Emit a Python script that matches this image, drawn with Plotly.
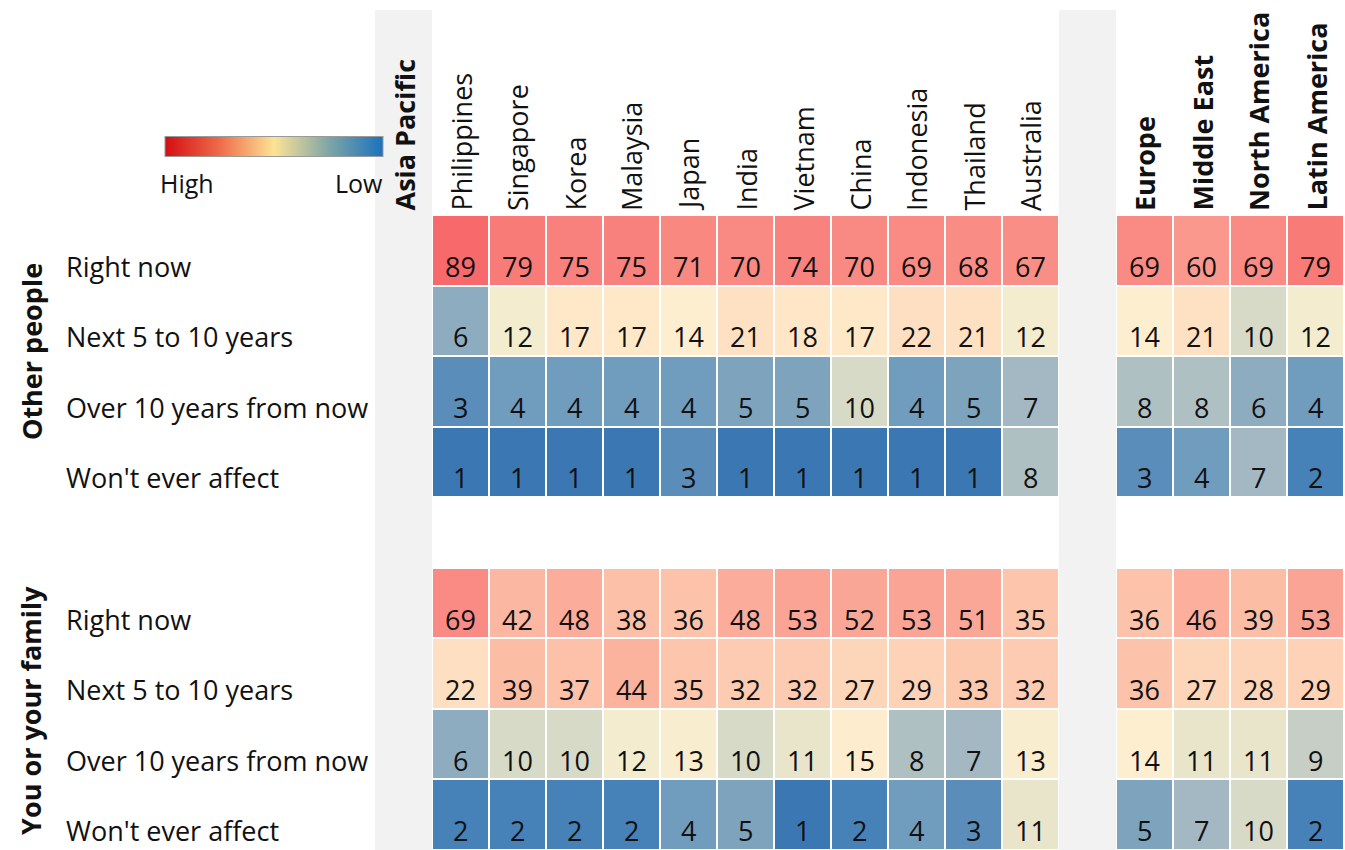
import math
import plotly.graph_objects as go

# ---------------- data ----------------
asia_countries = ["Philippines", "Singapore", "Korea", "Malaysia", "Japan", "India",
                  "Vietnam", "China", "Indonesia", "Thailand", "Australia"]
other_regions = ["Europe", "Middle East", "North America", "Latin America"]
timeframes = ["Right now", "Next 5 to 10 years", "Over 10 years from now", "Won't ever affect"]
groups = ["Other people", "You or your family"]

# Other people
other_right_now_asia = [89, 79, 75, 75, 71, 70, 74, 70, 69, 68, 67]
other_right_now_reg = [69, 60, 69, 79]
other_next_asia = [6, 12, 17, 17, 14, 21, 18, 17, 22, 21, 12]
other_next_reg = [14, 21, 10, 12]
other_over10_asia = [3, 4, 4, 4, 4, 5, 5, 10, 4, 5, 7]
other_over10_reg = [8, 8, 6, 4]
other_never_asia = [1, 1, 1, 1, 3, 1, 1, 1, 1, 1, 8]
other_never_reg = [3, 4, 7, 2]

# You or your family
you_right_now_asia = [69, 42, 48, 38, 36, 48, 53, 52, 53, 51, 35]
you_right_now_reg = [36, 46, 39, 53]
you_next_asia = [22, 39, 37, 44, 35, 32, 32, 27, 29, 33, 32]
you_next_reg = [36, 27, 28, 29]
you_over10_asia = [6, 10, 10, 12, 13, 10, 11, 15, 8, 7, 13]
you_over10_reg = [14, 11, 11, 9]
you_never_asia = [2, 2, 2, 2, 4, 5, 1, 2, 4, 3, 11]
you_never_reg = [5, 7, 10, 2]

# colour anchors (value -> cell colour)
color_values = [1, 2, 3, 4, 5, 6, 7, 8, 9, 10, 11, 12, 14, 17, 22, 29, 36, 44, 53, 69, 79, 89]
color_hex = ["#3b78b3", "#4682b8", "#5a8dba", "#709cbd", "#7ea3bd", "#8eacbf", "#a3b8c2",
             "#afc0c3", "#c6cec6", "#d8dac8", "#e8e5cb", "#f4ecce", "#fdeed0", "#fee8c8",
             "#fedfc1", "#fdd2b6", "#fcc3aa", "#fbb39e", "#faa496", "#f98b84", "#f87b78",
             "#f7696b"]
legend_colors = ["#d40d12", "#ee6b4a", "#fde394", "#7fa6a6", "#1a72bd"]

# ---------------- build grid ----------------
columns = ["Asia Pacific"] + asia_countries + [""] + other_regions
row_series = [
    (other_right_now_asia, other_right_now_reg),
    (other_next_asia, other_next_reg),
    (other_over10_asia, other_over10_reg),
    (other_never_asia, other_never_reg),
    None,
    (you_right_now_asia, you_right_now_reg),
    (you_next_asia, you_next_reg),
    (you_over10_asia, you_over10_reg),
    (you_never_asia, you_never_reg),
]
values = []
for rs in row_series:
    if rs is None:
        values.append([None] * len(columns))
    else:
        values.append([None] + list(rs[0]) + [None] + list(rs[1]))

vmax = math.log10(max(color_values))
z = [[(math.log10(v) if v is not None else None) for v in row] for row in values]
colorscale = [[math.log10(v) / vmax, c] for v, c in zip(color_values, color_hex)]

ncol = len(columns)
nrow = len(values)
col_idx = list(range(ncol))
row_idx = list(range(nrow))

FONT = "'Open Sans', 'Noto Sans', sans-serif"
FS = 27
W, H = 1345, 850
x_left, x_right = 375, 1344
y_top = 215

fig = go.Figure()
fig.add_trace(go.Heatmap(
    z=z, x=col_idx, y=row_idx, colorscale=colorscale, zmin=0, zmax=vmax,
    showscale=False, xgap=2, ygap=2, hoverinfo="skip",
))

# dummy trace for the High/Low legend bar
fig.add_trace(go.Scatter(
    x=[None], y=[None], mode="markers", showlegend=False, hoverinfo="skip",
    marker=dict(color=[0, 1], cmin=0, cmax=1,
                colorscale=[[i / (len(legend_colors) - 1), c] for i, c in enumerate(legend_colors)],
                showscale=True,
                colorbar=dict(orientation="h", x=(165 + 383) / 2 / W, xanchor="center",
                              y=1 - 147 / H, yanchor="middle", len=218, lenmode="pixels",
                              thickness=20, thicknessmode="pixels", outlinewidth=1,
                              outlinecolor="#9a9a9a", showticklabels=False, ticks="",
                              xpad=0, ypad=0)),
))

# grey header bands
for ci, name in enumerate(columns):
    if name in ("Asia Pacific", ""):
        fig.add_shape(type="rect", xref="x", yref="paper", x0=ci - 0.5, x1=ci + 0.5,
                      y0=0, y1=1 - 10 / H, fillcolor="#f2f2f2", line_width=0, layer="below")

# cell values
for ri, row in enumerate(values):
    for ci, v in enumerate(row):
        if v is None:
            continue
        fig.add_annotation(x=ci, y=ri, text=str(v), showarrow=False, yshift=-16,
                           font=dict(family=FONT, size=FS, color="#111111"))

# column headers
bold_cols = {"Asia Pacific"} | set(other_regions)
for ci, name in enumerate(columns):
    if not name:
        continue
    txt = f"<b>{name}</b>" if name in bold_cols else name
    fig.add_annotation(x=ci, y=1 - y_top / H, xref="x", yref="paper", text=txt,
                       textangle=-90, showarrow=False, yanchor="bottom", xanchor="center",
                       yshift=2, font=dict(family=FONT, size=FS, color="#111111"))

# row labels
label_rows = [0, 1, 2, 3, 5, 6, 7, 8]
for k, ri in enumerate(label_rows):
    fig.add_annotation(x=64 / W, y=ri, xref="paper", yref="y", text=timeframes[k % 4],
                       showarrow=False, xanchor="left", yshift=-16,
                       font=dict(family=FONT, size=FS, color="#111111"))

# group labels
for g, rows, ys in zip(groups, [(0, 3), (5, 8)], [4, -2]):
    fig.add_annotation(x=31 / W, y=(rows[0] + rows[1]) / 2, xref="paper", yref="y",
                       text=f"<b>{g}</b>", textangle=-90, showarrow=False,
                       xanchor="center", yanchor="middle", yshift=ys,
                       font=dict(family=FONT, size=FS, color="#111111"))

# legend labels
fig.add_annotation(x=158 / W, y=1 - 183 / H, xref="paper", yref="paper", text="High",
                   showarrow=False, xanchor="left", yanchor="middle",
                   font=dict(family=FONT, size=25, color="#111111"))
fig.add_annotation(x=385 / W, y=1 - 183 / H, xref="paper", yref="paper", text="Low",
                   showarrow=False, xanchor="right", yanchor="middle",
                   font=dict(family=FONT, size=25, color="#111111"))

fig.update_xaxes(domain=[x_left / W, x_right / W], range=[-0.5, ncol - 0.5],
                 showticklabels=False, showgrid=False, zeroline=False, fixedrange=True)
fig.update_yaxes(domain=[0, 1 - y_top / H], range=[nrow - 0.5, -0.5],
                 showticklabels=False, showgrid=False, zeroline=False, fixedrange=True)
fig.update_layout(width=W, height=H, margin=dict(l=0, r=0, t=0, b=0),
                  plot_bgcolor="white", paper_bgcolor="white", showlegend=False,
                  font=dict(family=FONT))

fig.write_html("out.html", config={"displayModeBar": False},
               post_script="document.body.style.margin='0';document.body.style.overflow='hidden';")
